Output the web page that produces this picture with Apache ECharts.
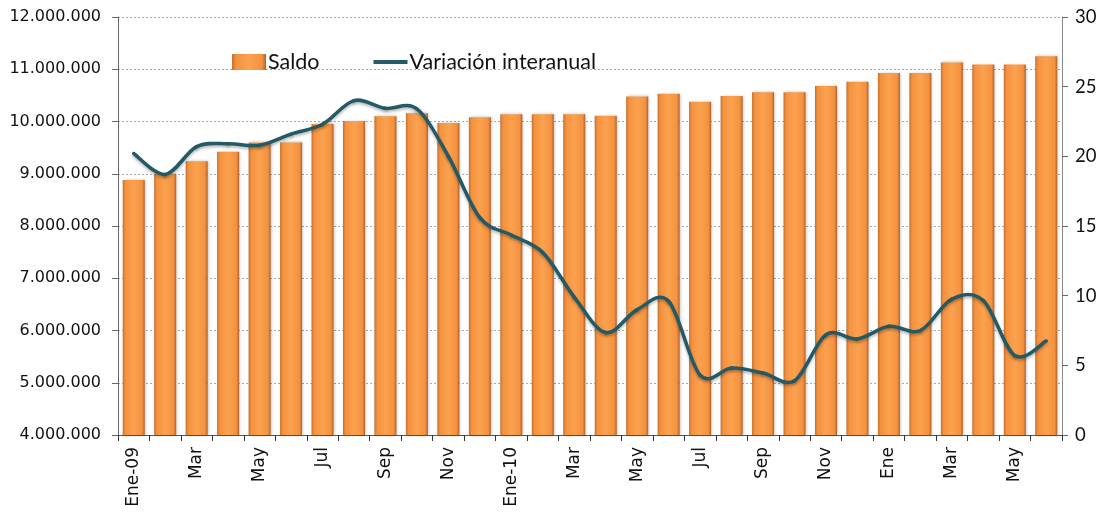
<!DOCTYPE html>
<html>
<head>
<meta charset="utf-8">
<script src="https://cdn.jsdelivr.net/npm/echarts@6/dist/echarts.min.js"></script>
<style>
html,body{margin:0;padding:0;background:#fff;}
#c{width:1109px;height:519px;}
</style>
</head>
<body>
<div id="c"></div>
<script>
var categories = ["Ene-09","Feb","Mar","Abr","May","Jun","Jul","Ago","Sep","Oct","Nov","Dic",
  "Ene-10","Feb","Mar","Abr","May","Jun","Jul","Ago","Sep","Oct","Nov","Dic",
  "Ene","Feb","Mar","Abr","May","Jun"];
var saldo = [8880000,9000000,9240000,9420000,9600000,9600000,9950000,10010000,10100000,10160000,9970000,10080000,
  10140000,10140000,10140000,10110000,10480000,10530000,10380000,10490000,10560000,10560000,10680000,10760000,
  10930000,10930000,11130000,11090000,11090000,11250000];
var variacion = [20.2,18.7,20.7,20.9,20.8,21.6,22.3,24.0,23.45,23.4,20.0,15.6,
  14.35,13.1,9.9,7.35,9.0,9.6,4.3,4.8,4.45,3.9,7.2,6.9,
  7.8,7.5,9.75,9.65,5.7,6.75];
var leftTicks = {min:4000000, max:12000000, interval:1000000};
var rightTicks = {min:0, max:30, interval:5};

function fmt(v){ return String(v).replace(/\B(?=(\d{3})+(?!\d))/g, '.'); }

var LINE_COLOR = '#245a66';
var chart = echarts.init(document.getElementById('c'));
var barColor = new echarts.graphic.LinearGradient(0,0,1,0,[
  {offset:0, color:'#c46f2c'},
  {offset:0.12, color:'#f4913f'},
  {offset:0.5, color:'#fba24f'},
  {offset:0.88, color:'#f4913f'},
  {offset:1, color:'#b0622a'}
]);

// Smooth curve (Catmull-Rom style) through the data points, positioned by the axes
function renderCurve(params, api){
  if (params.dataIndex !== 0) return null;
  var pts = variacion.map(function(v,i){ return api.coord([i, v]); });
  var t = 1/6, children = [];
  for (var i = 0; i < pts.length - 1; i++){
    var p0 = pts[i-1] || pts[i], p1 = pts[i], p2 = pts[i+1], p3 = pts[i+2] || pts[i+1];
    children.push({
      type:'bezierCurve',
      shape:{x1:p1[0], y1:p1[1], x2:p2[0], y2:p2[1],
        cpx1:p1[0] + (p2[0]-p0[0])*t, cpy1:p1[1] + (p2[1]-p0[1])*t,
        cpx2:p2[0] - (p3[0]-p1[0])*t, cpy2:p2[1] - (p3[1]-p1[1])*t},
      style:{stroke:LINE_COLOR, lineWidth:3.5, fill:null, lineCap:'round',
        shadowColor:'rgba(0,0,0,0.28)', shadowBlur:3, shadowOffsetY:2}
    });
  }
  return {type:'group', children:children};
}

chart.setOption({
  animation:false,
  grid:{left:118, right:47, top:17, bottom:84, containLabel:false},
  legend:{
    left:227, top:46, itemGap:54, itemWidth:34, itemHeight:16,
    textStyle:{fontFamily:'Lato', fontSize:21.5, color:'#111', padding:[0,0,0,-3]},
    data:[{name:'Saldo', icon:'rect'},
          {name:'Variación interanual', icon:'path://M0,0 L34,0 L34,4 L0,4 Z', symbolKeepAspect:true,
           itemStyle:{color:LINE_COLOR}}]
  },
  xAxis:{
    type:'category', data:categories, boundaryGap:true,
    axisLine:{lineStyle:{color:'#555', width:1}},
    axisTick:{show:true, interval:0, length:6, lineStyle:{color:'#333'}},
    axisLabel:{interval:1, rotate:90, fontFamily:'DejaVu Sans', fontSize:17, color:'#111', margin:12}
  },
  yAxis:[{
    type:'value', min:leftTicks.min, max:leftTicks.max, interval:leftTicks.interval,
    axisLine:{show:true, lineStyle:{color:'#666'}},
    axisTick:{show:true, length:6, lineStyle:{color:'#666'}},
    splitLine:{show:true, lineStyle:{color:'#aaa', type:[2,2], width:1}},
    axisLabel:{formatter:fmt, fontFamily:'DejaVu Sans', fontSize:16, color:'#111', margin:17}
  },{
    type:'value', min:rightTicks.min, max:rightTicks.max, interval:rightTicks.interval,
    position:'right',
    axisLine:{show:true, lineStyle:{color:'#888'}},
    axisTick:{show:true, length:6, lineStyle:{color:'#666'}},
    splitLine:{show:false},
    axisLabel:{fontFamily:'Lato', fontSize:18.5, color:'#111', margin:13}
  }],
  series:[{
    name:'Saldo', type:'bar', data:saldo, barCategoryGap:'30%',
    itemStyle:{color:barColor,
      shadowColor:'rgba(0,0,0,0.25)', shadowBlur:3, shadowOffsetX:1, shadowOffsetY:0}
  },{
    name:'Variación interanual', type:'custom', coordinateSystem:'cartesian2d',
    xAxisIndex:0, yAxisIndex:1,
    data:variacion.map(function(v,i){ return [i, v]; }),
    encode:{x:0, y:1},
    renderItem:renderCurve, clip:false,
    itemStyle:{color:LINE_COLOR}, z:3
  }]
});
</script>
</body>
</html>
